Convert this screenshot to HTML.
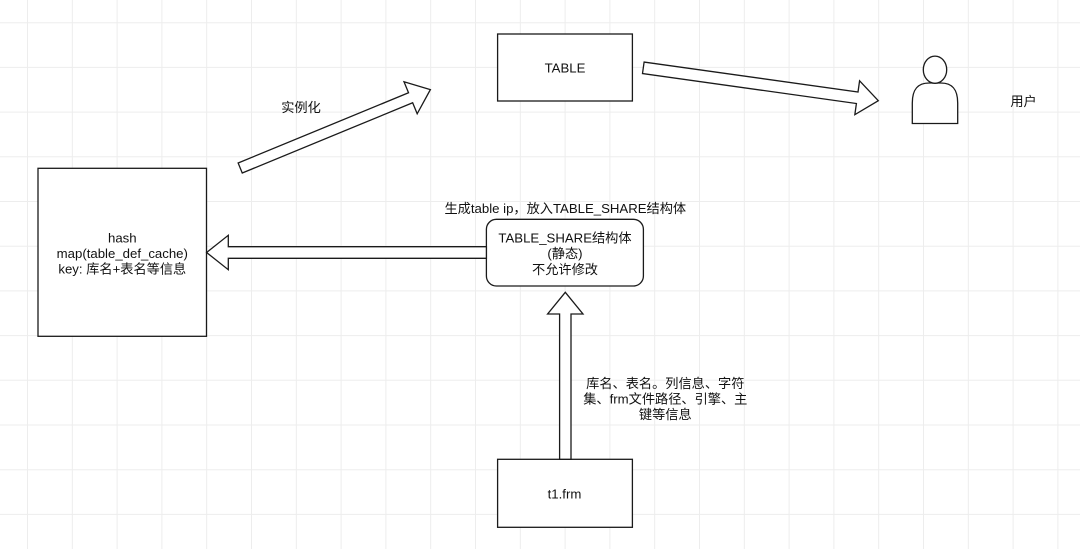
<!DOCTYPE html>
<html><head><meta charset="utf-8"><style>
html,body{margin:0;padding:0;background:#fff;}
svg{display:block;}
text{font-family:"Liberation Sans","Noto Sans CJK SC",sans-serif;font-size:13.2px;fill:#111;}
</style></head><body>
<svg width="1080" height="549" viewBox="0 0 1080 549" xmlns="http://www.w3.org/2000/svg">
<rect width="1080" height="549" fill="#fff"/>
<g stroke="#ededed" stroke-width="1">
<line x1="27.5" y1="0" x2="27.5" y2="549"/><line x1="72.3" y1="0" x2="72.3" y2="549"/><line x1="117.1" y1="0" x2="117.1" y2="549"/><line x1="161.9" y1="0" x2="161.9" y2="549"/><line x1="206.7" y1="0" x2="206.7" y2="549"/><line x1="251.5" y1="0" x2="251.5" y2="549"/><line x1="296.3" y1="0" x2="296.3" y2="549"/><line x1="341.1" y1="0" x2="341.1" y2="549"/><line x1="385.9" y1="0" x2="385.9" y2="549"/><line x1="430.7" y1="0" x2="430.7" y2="549"/><line x1="475.5" y1="0" x2="475.5" y2="549"/><line x1="520.3" y1="0" x2="520.3" y2="549"/><line x1="565.1" y1="0" x2="565.1" y2="549"/><line x1="609.9" y1="0" x2="609.9" y2="549"/><line x1="654.7" y1="0" x2="654.7" y2="549"/><line x1="699.5" y1="0" x2="699.5" y2="549"/><line x1="744.3" y1="0" x2="744.3" y2="549"/><line x1="789.1" y1="0" x2="789.1" y2="549"/><line x1="833.9" y1="0" x2="833.9" y2="549"/><line x1="878.7" y1="0" x2="878.7" y2="549"/><line x1="923.5" y1="0" x2="923.5" y2="549"/><line x1="968.3" y1="0" x2="968.3" y2="549"/><line x1="1013.1" y1="0" x2="1013.1" y2="549"/><line x1="1057.9" y1="0" x2="1057.9" y2="549"/>
<line x1="0" y1="22.7" x2="1080" y2="22.7"/><line x1="0" y1="67.4" x2="1080" y2="67.4"/><line x1="0" y1="112.1" x2="1080" y2="112.1"/><line x1="0" y1="156.8" x2="1080" y2="156.8"/><line x1="0" y1="201.5" x2="1080" y2="201.5"/><line x1="0" y1="246.2" x2="1080" y2="246.2"/><line x1="0" y1="290.9" x2="1080" y2="290.9"/><line x1="0" y1="335.6" x2="1080" y2="335.6"/><line x1="0" y1="380.3" x2="1080" y2="380.3"/><line x1="0" y1="425" x2="1080" y2="425"/><line x1="0" y1="469.7" x2="1080" y2="469.7"/><line x1="0" y1="514.4" x2="1080" y2="514.4"/>
</g>

<g stroke="#1a1a1a" stroke-width="1.3" fill="#fff">
<rect x="38" y="168.3" width="168.5" height="168"/>
<rect x="497.6" y="34" width="134.8" height="67"/>
<rect x="497.6" y="459.3" width="134.8" height="68"/>
<rect x="486.4" y="219.3" width="157" height="66.7" rx="10" ry="10"/>

<polygon transform="translate(240.2,168) rotate(-22.4)" points="0,-5.4 184.3,-5.4 184.3,-17.3 205.7,0 184.3,17.3 184.3,5.4 0,5.4"/>
<polygon transform="translate(643.3,67.8) rotate(7.97)" points="0,-5.8 216,-5.8 216,-17.1 237.3,0 216,17.1 216,5.8 0,5.8"/>
<polygon points="486.4,246.7 228.3,246.7 228.3,235.3 206.6,252.5 228.3,269.7 228.3,258.3 486.4,258.3"/>
<polygon points="559.6,459.3 559.6,314 547.6,314 565.3,292.3 583,314 571,314 571,459.3"/>

<path d="M912.3,123.5 V103 C912.3,89 918,83 929,83 H941 C952,83 957.7,89 957.7,103 V123.5 Z"/>
<ellipse cx="935" cy="69.7" rx="11.7" ry="13.6"/>
</g>

<text x="565" y="72.5" text-anchor="middle" font-size="13">TABLE</text>
<text x="301" y="112" text-anchor="middle">实例化</text>
<text x="1023.5" y="106" text-anchor="middle">用户</text>

<text x="122.3" y="242.5" text-anchor="middle">hash</text>
<text x="122.3" y="258" text-anchor="middle">map(table_def_cache)</text>
<text x="122.3" y="273.5" text-anchor="middle">key: 库名+表名等信息</text>

<text x="565.3" y="213" text-anchor="middle">生成table ip，放入TABLE_SHARE结构体</text>

<text x="565" y="242.5" text-anchor="middle">TABLE_SHARE结构体</text>
<text x="565" y="258" text-anchor="middle">(静态)</text>
<text x="565" y="274" text-anchor="middle">不允许修改</text>

<text x="665.3" y="388" text-anchor="middle">库名、表名。列信息、字符</text>
<text x="665.3" y="403.5" text-anchor="middle">集、frm文件路径、引擎、主</text>
<text x="665.3" y="419" text-anchor="middle">键等信息</text>

<text x="564.5" y="498.5" text-anchor="middle" font-size="13">t1.frm</text>
</svg>
</body></html>
